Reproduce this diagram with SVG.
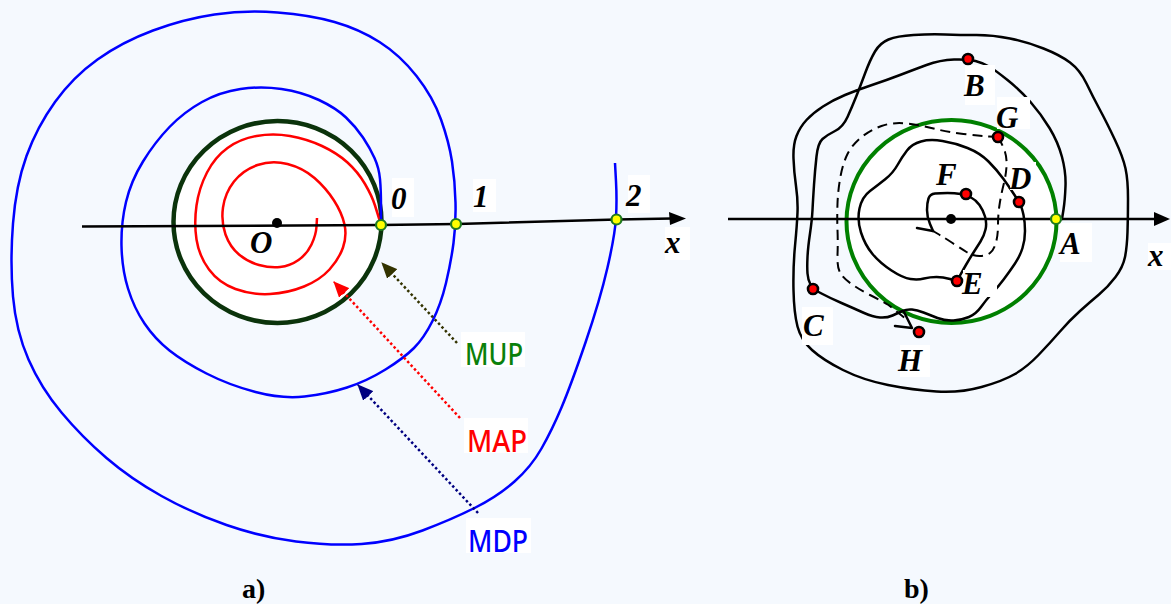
<svg xmlns="http://www.w3.org/2000/svg" width="1171" height="604" viewBox="0 0 1171 604">
<defs>
<style>
.lbl{font-family:"Liberation Serif","Times New Roman",serif;font-weight:bold;font-style:italic;font-size:31px;fill:#000}
.cap{font-family:"Liberation Serif","Times New Roman",serif;font-weight:bold;font-size:28px;fill:#000}
.cm{font-family:"Comic Sans MS","Noto Sans",sans-serif;font-size:31px;font-weight:500}
.box{fill:#fff}
.blk{fill:none;stroke:#000;stroke-width:2.5;stroke-linecap:round;stroke-linejoin:round}
.dash{fill:none;stroke:#000;stroke-width:2;stroke-dasharray:10 6}
.yp{fill:#ffff00;stroke:#1f7a1f;stroke-width:2.2}
.rp{fill:#ff0000;stroke:#000;stroke-width:2.6}
.dot{stroke-width:2.5;stroke-dasharray:2.5 2.5;fill:none}
</style>
<marker id="ah-mup" markerWidth="16" markerHeight="14" refX="15" refY="7" orient="auto" markerUnits="userSpaceOnUse"><path d="M0,0 L16,7 L0,14 Z" fill="#333300"/></marker>
<marker id="ah-map" markerWidth="16" markerHeight="14" refX="15" refY="7" orient="auto" markerUnits="userSpaceOnUse"><path d="M0,0 L16,7 L0,14 Z" fill="#ff0000"/></marker>
<marker id="ah-mdp" markerWidth="16" markerHeight="14" refX="15" refY="7" orient="auto" markerUnits="userSpaceOnUse"><path d="M0,0 L16,7 L0,14 Z" fill="#000080"/></marker>
</defs>
<rect x="0" y="0" width="1171" height="604" fill="#f5f9fe"/>

<!-- ===== Panel a ===== -->
<g id="panel-a">
<g id="mup-circle">
<ellipse cx="277.5" cy="222" rx="104" ry="101" fill="#fff" stroke="#0b330b" stroke-width="4.5"/>
</g>
<g id="map-spiral">
<path fill="none" stroke="#ff0000" stroke-width="2.5" stroke-linejoin="round" d="M317,218 L316.5,226.5 Q316,235 311.5,244.5 Q307,254 298.5,260 Q290,266 280,267 Q270,268 259,265 Q248,262 239,254.5 Q230,247 225.5,234.5 Q221,222 223,207.5 Q225,193 234,181.5 Q243,170 257.5,165 Q272,160 287.5,164 Q303,168 314.5,178 Q326,188 334,200.5 Q342,213 344.5,224.5 Q347,236 343,247.5 Q339,259 329.5,269.5 Q320,280 304,286.5 Q288,293 270,294 Q252,295 235.5,289 Q219,283 209,269.5 Q199,256 196.5,239.5 Q194,223 196.5,205.5 Q199,188 207,172.5 Q215,157 227.5,148 Q240,139 256.5,136 Q273,133 290,136 Q307,139 322,146 Q337,153 347.5,162.5 Q358,172 365,184 Q372,196 375,205.5 Q378,215 379.5,220 L381,225"/>
</g>
<g id="mdp-spiral">
<path fill="none" stroke="#0000ff" stroke-width="2.5" stroke-linejoin="round" d="M381,225 L381,207.5 Q381,190 380,179 Q379,168 374.5,158 Q370,148 363,137.5 Q356,127 346,117.5 Q336,108 319,100 Q302,92 281.5,89 Q261,86 240.5,89 Q220,92 202,102 Q184,112 169.5,127 Q155,142 143,161.5 Q131,181 126,202 Q121,223 121.5,246 Q122,269 128,288.5 Q134,308 144.5,323.5 Q155,339 169.5,350.5 Q184,362 206.5,373.5 Q229,385 255.5,392 Q282,399 304.5,396.5 Q327,394 347,387.5 Q367,381 385.5,369.5 Q404,358 414,348 Q424,338 432.5,321 Q441,304 446,283 Q451,262 453.5,243 Q456,224 455.5,202.5 Q455,181 452,161.5 Q449,142 441,119.5 Q433,97 416.5,76 Q400,55 379.5,42 Q359,29 334.5,22 Q310,15 277.5,12.5 Q245,10 214.5,14.5 Q184,19 153,30.5 Q122,42 97.5,59.5 Q73,77 55,102 Q37,127 26.5,156 Q16,185 13,223.5 Q10,262 13,296.5 Q16,331 28.5,359.5 Q41,388 61.5,412.5 Q82,437 106.5,458 Q131,479 161.5,496 Q192,513 226.5,525 Q261,537 296,541.5 Q331,546 361.5,544 Q392,542 422.5,530.5 Q453,519 475.5,507.5 Q498,496 514.5,481.5 Q531,467 541.5,448.5 Q552,430 561.5,407.5 Q571,385 585.5,342.5 Q600,300 607.5,267.5 Q615,235 616,217.5 Q617,200 616,181.5 L615,163"/>
</g>
<g id="axis-a">
<polyline fill="none" stroke="#000" stroke-width="2.5" points="82,226.5 381,225 457,224 617,219.5 672,218.5"/>
<polygon points="686,218.5 669,212 670,225" fill="#000"/>
</g>
<g id="origin-a">
<circle cx="277" cy="223" r="5" fill="#000"/>
<text class="lbl" x="250" y="253">O</text>
</g>
<g id="pt-0">
<rect class="box" x="392" y="178" width="22" height="39"/>
<text class="lbl" x="391" y="209">0</text>
<circle class="yp" cx="381" cy="225" r="5"/>
</g>
<g id="pt-1">
<rect class="box" x="473" y="179" width="23" height="33"/>
<text class="lbl" x="473" y="207">1</text>
<circle class="yp" cx="456" cy="224" r="5"/>
</g>
<g id="pt-2">
<rect class="box" x="628" y="175" width="22" height="38"/>
<text class="lbl" x="626" y="206">2</text>
<circle class="yp" cx="616.5" cy="219.5" r="5"/>
</g>
<g id="x-a">
<rect class="box" x="665" y="227" width="25" height="33"/>
<text class="lbl" x="665" y="253">x</text>
</g>
<g id="connectors-a">
<line class="dot" x1="457" y1="343" x2="382" y2="263" stroke="#333300" marker-end="url(#ah-mup)"/>
<line class="dot" x1="460" y1="418" x2="334" y2="282" stroke="#ff0000" marker-end="url(#ah-map)"/>
<line class="dot" x1="478" y1="513" x2="358" y2="385" stroke="#000080" marker-end="url(#ah-mdp)"/>
</g>
<g id="lbl-mup">
<rect class="box" x="461" y="332" width="64" height="35"/>
<text class="cm" x="465" y="365" fill="#0a800a" textLength="58" lengthAdjust="spacingAndGlyphs">MUP</text>
</g>
<g id="lbl-map">
<rect class="box" x="464" y="418" width="64" height="35"/>
<text class="cm" x="467" y="452" fill="#ff0000" textLength="60" lengthAdjust="spacingAndGlyphs">MAP</text>
</g>
<g id="lbl-mdp">
<rect class="box" x="466" y="518" width="65" height="35"/>
<text class="cm" x="468" y="552" fill="#0000ff" textLength="60" lengthAdjust="spacingAndGlyphs">MDP</text>
</g>
<g id="cap-a">
<text class="cap" x="242" y="598">a)</text>
</g>
</g>

<!-- ===== Panel b ===== -->
<g id="panel-b">
<g id="green-circle">
<ellipse cx="951.5" cy="221.5" rx="105" ry="101.5" fill="#fff" stroke="#008000" stroke-width="4"/>
</g>
<g id="axis-b">
<line x1="728" y1="219" x2="1156" y2="219" stroke="#000" stroke-width="2.5"/>
<polygon points="1170,219 1154,212 1154,226" fill="#000"/>
</g>
<g id="trajectories">
<path class="blk" d="M1062,219 L1063.5,209.5 Q1065,200 1065.5,186 Q1066,172 1062,157 Q1058,142 1049.5,128 Q1041,114 1030.5,102 Q1020,90 1007.5,80 Q995,70 989,66.5 Q983,63 975.5,61 Q968,59 954,59.5 Q940,60 926.5,65 Q913,70 900,75 Q887,80 872,85 Q857,90 845,95 Q833,100 823,106.5 Q813,113 806.5,120 Q800,127 796.5,136 Q793,145 793.5,158.5 Q794,172 796,186 Q798,200 797.5,212.5 Q797,225 795,246 Q793,267 793.5,290 Q794,313 797.5,326.5 Q801,340 812,350 Q823,360 843,370 Q863,380 888,385 Q913,390 936.5,391.5 Q960,393 981.5,387 Q1003,381 1015,374 Q1027,367 1038.5,355 Q1050,343 1060,331.5 Q1070,320 1080,311 Q1090,302 1099,294.5 Q1108,287 1115.5,277 Q1123,267 1125,257 Q1127,247 1127.5,232 Q1128,217 1128,198.5 Q1128,180 1125.5,168.5 Q1123,157 1115,140 Q1107,123 1100,110 Q1093,97 1086.5,83.5 Q1080,70 1070,62.5 Q1060,55 1043.5,48.5 Q1027,42 1010,38.5 Q993,35 976.5,35 Q960,35 945,34.5 Q930,34 913.5,35 Q897,36 888.5,39.5 Q880,43 875,51.5 Q870,60 865,73.5 Q860,87 856,97 Q852,107 847.5,117 Q843,127 835,131 Q827,135 822.5,139 Q818,143 816.5,156.5 Q815,170 814,185 Q813,200 812.5,210 Q812,220 810,233.5 Q808,247 807.5,257 Q807,267 807.5,273.5 Q808,280 810.5,284.5 L813,289"/>
<path class="blk" d="M813,289 L821.5,293.5 Q830,298 841.5,303 Q853,308 863,312.5 Q873,317 880,317.5 Q887,318 892.5,315.5 Q898,313 902.5,311 Q907,309 912,309.5 Q917,310 923.5,312.5 Q930,315 937.5,318 Q945,321 953.5,320.5 Q962,320 969,317 Q976,314 981,307 Q986,300 992,293.5 Q998,287 1004,279 Q1010,271 1015,263.5 Q1020,256 1022.5,248 Q1025,240 1025,231 Q1025,222 1023.5,215 Q1022,208 1020.5,205 L1019,202"/>
<path class="blk" d="M957,281 L950,279 Q943,277 936.5,277 Q930,277 924,278.5 Q918,280 910.5,279 Q903,278 891.5,270.5 Q880,263 872.5,254 Q865,245 861,232.5 Q857,220 859.5,208.5 Q862,197 870,191 Q878,185 885.5,179 Q893,173 897.5,165 Q902,157 907,150.5 Q912,144 921,141.5 Q930,139 942.5,141 Q955,143 967.5,148 Q980,153 988.5,161.5 Q997,170 1003.5,179 Q1010,188 1014.5,195 L1019,202"/>
<path class="blk" d="M957,281 L960,275.5 Q963,270 966.5,264 Q970,258 973.5,252.5 Q977,247 980.5,241.5 Q984,236 985.5,229.5 Q987,223 985,216.5 Q983,210 979.5,205 Q976,200 971,197.5 Q966,195 960.5,194 Q955,193 947.5,193 Q940,193 935,193.5 Q930,194 928.5,198.5 Q927,203 927,210 Q927,217 930,224 L933,231"/>
<path class="blk" d="M917,228 L933,231"/>
<path class="dash" d="M998,137 L989,136.5 Q980,136 963.5,134 Q947,132 933.5,128.5 Q920,125 906.5,123.5 Q893,122 881.5,126 Q870,130 861,137.5 Q852,145 847.5,154 Q843,163 840.5,176.5 Q838,190 837.5,203.5 Q837,217 837.5,230 Q838,243 837.5,255 Q837,267 840,272.5 Q843,278 851.5,284 Q860,290 870,295 Q880,300 888.5,305 L906,319"/>
<path class="blk" d="M895,326 L912,328 L904,312"/>
<path class="dash" d="M998,137 L1000.5,141.5 Q1003,146 1005,152 Q1007,158 1006.5,166.5 Q1006,175 1003.5,185 Q1001,195 999.5,205 Q998,215 998,225 Q998,235 996,242.5 Q994,250 990,253 Q986,256 979.5,256 Q973,256 966.5,252 Q960,248 952.5,243 Q945,238 939,234.5 L933,231"/>
</g>
<g id="center-b">
<circle cx="951" cy="219" r="5" fill="#000"/>
</g>
<g id="pt-A">
<rect class="box" x="1060" y="223" width="32" height="39"/>
<text class="lbl" x="1060" y="254">A</text>
<circle class="yp" cx="1056" cy="219" r="5"/>
</g>
<g id="x-b">
<rect class="box" x="1148" y="243" width="23" height="27"/>
<text class="lbl" x="1148" y="266">x</text>
</g>
<g id="pt-B">
<rect class="box" x="965" y="65" width="30" height="40"/>
<text class="lbl" x="964" y="96">B</text>
<circle class="rp" cx="968" cy="59" r="5"/>
</g>
<g id="pt-G">
<rect class="box" x="997" y="97" width="33" height="32"/>
<text class="lbl" x="996" y="128">G</text>
<circle class="rp" cx="998" cy="137" r="5"/>
</g>
<g id="pt-D">
<rect class="box" x="1010" y="162" width="26" height="28"/>
<text class="lbl" x="1009" y="189">D</text>
<circle class="rp" cx="1019" cy="202" r="5"/>
</g>
<g id="pt-F">
<text class="lbl" x="936" y="185">F</text>
<circle class="rp" cx="966" cy="194" r="5"/>
</g>
<g id="pt-E">
<rect class="box" x="963" y="270" width="34" height="27"/>
<text class="lbl" x="962" y="294">E</text>
<circle class="rp" cx="957" cy="281" r="5"/>
</g>
<g id="pt-C">
<rect class="box" x="802" y="307" width="31" height="38"/>
<text class="lbl" x="803" y="336">C</text>
<circle class="rp" cx="813" cy="289" r="5"/>
</g>
<g id="pt-H">
<rect class="box" x="900" y="345" width="30" height="32"/>
<text class="lbl" x="898" y="371">H</text>
<circle class="rp" cx="919" cy="332" r="5"/>
</g>
<g id="cap-b">
<text class="cap" x="904" y="598">b)</text>
</g>
</g>
</svg>
